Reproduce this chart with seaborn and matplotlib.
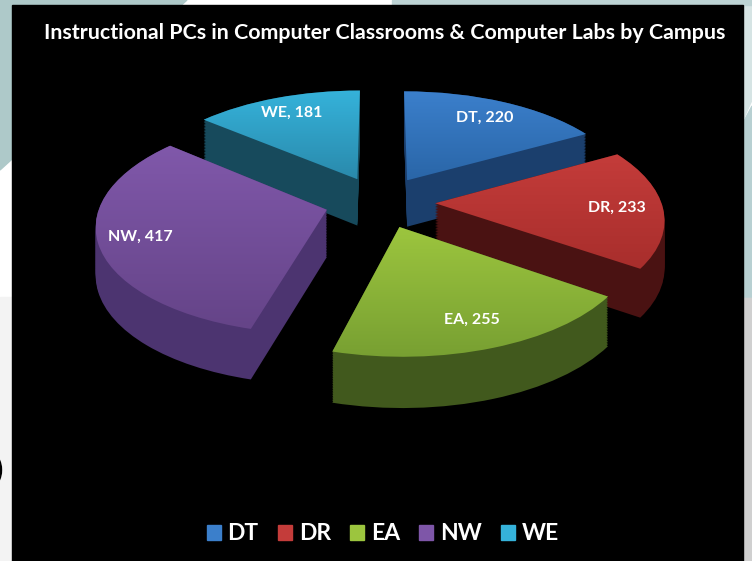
import numpy as np
import matplotlib
matplotlib.use('Agg')
import matplotlib.pyplot as plt
import seaborn as sns
from matplotlib.colors import LinearSegmentedColormap
from matplotlib.patches import Patch, Polygon, Rectangle, Ellipse
from matplotlib.transforms import Transform

campuses = ['DT', 'DR', 'EA', 'NW', 'WE']
pcs = [220, 233, 255, 417, 181]
title = 'Instructional PCs in Computer Classrooms & Computer Labs by Campus'

# colours per slice
top_light = ['#3b7fcb', '#c43c3a', '#9cc53e', '#8058aa', '#35b2da']
top_dark = ['#2a66a8', '#a82e2c', '#78a032', '#654488', '#2a8aac']
sides = ['#1b3f6d', '#4a1212', '#41591d', '#4c3470', '#174a5c']
legend_cols = ['#3b7fcb', '#c43c3a', '#9cc53e', '#7e56a8', '#35b2da']

# far to near, so the near slices cover the others
draw_rank = [1, 2, 4, 3, 0]
label_dist = [0.78, 0.80, 0.79, 0.82, 0.80]

sns.set_theme(style='white')
plt.rcParams['font.family'] = ['Lato', 'DejaVu Sans']

CX, CY, R, TILT, PERSP, DEPTH = 380, 202, 226, 0.468, 0.13, 47
EXPLODE = 0.244
LAYERS = 30


class Tilt(Transform):
    # lays the flat pie on a table seen from above, result is in pixels
    input_dims = 2
    output_dims = 2

    def __init__(self, z=0.0):
        super().__init__()
        self.z = z

    def transform_non_affine(self, values):
        xy = np.asarray(values, dtype=float)
        s = 1 / (1 + PERSP * xy[:, 1])
        return np.column_stack([CX + R * xy[:, 0] * s,
                                CY - R * TILT * xy[:, 1] * s + self.z * np.sqrt(s)])


fig = plt.figure(figsize=(7.52, 5.61), dpi=100)
ax = fig.add_axes([0, 0, 1, 1])

# slide behind the chart
ax.add_patch(Rectangle((0, 0), 752, 561, color='white', zorder=-10))
ax.add_patch(Rectangle((0, 297), 752, 264, color='#f3f3f3', zorder=-9))
ax.add_patch(Rectangle((743, 297), 9, 264, color='#d0d0d0', zorder=-9))
ax.add_patch(Polygon([(0, 0), (187, 0), (0, 170)], color='#aec9c9', zorder=-9))
ax.add_patch(Polygon([(392, 0), (752, 0), (752, 100), (743, 120), (743, 0)], color='#d6e4e4', zorder=-9))
ax.add_patch(Rectangle((392, 0), 360, 5, color='#bdd3d4', zorder=-8))
ax.add_patch(Polygon([(743, 123), (752, 106), (752, 297), (743, 297)], color='#b8d0d2', zorder=-8))
ax.add_patch(Ellipse((-8, 470), 19, 32, color='black', zorder=-8))
ax.add_patch(Rectangle((12, 5), 731, 556, color='black', zorder=-5))

base = ax.transData
for layer in range(LAYERS + 1):
    z = DEPTH * (1 - layer / LAYERS)
    wedges, _ = ax.pie(pcs, startangle=90, counterclock=False, explode=[EXPLODE] * 5,
                       colors=sides, frame=False)
    for i, w in enumerate(wedges):
        w.set_transform(Tilt(z) + base)
        w.set_zorder(draw_rank[i] * 100 + layer)
        w.set_linewidth(0)

top = Tilt(0)

# lit top faces, last layer of the stack gives the shapes
for i, w in enumerate(wedges):
    box = top.transform_path(w.get_path()).get_extents()
    cmap = LinearSegmentedColormap.from_list('g', [top_light[i], top_dark[i]])
    im = ax.imshow(np.linspace(0, 1, 64).reshape(-1, 1), cmap=cmap, aspect='auto',
                   extent=(box.x0, box.x1, box.y1, box.y0),
                   zorder=draw_rank[i] * 100 + LAYERS + 1)
    im.set_clip_path(w)

    mid = np.deg2rad((w.theta1 + w.theta2) / 2)
    px = w.center[0] + label_dist[i] * np.cos(mid)
    py = w.center[1] + label_dist[i] * np.sin(mid)
    ax.text(px, py, f'{campuses[i]}, {pcs[i]}', transform=top + base, color='white',
            fontsize=11.5, fontweight='bold', ha='center', va='center', zorder=1000)

ax.set_aspect('auto')
ax.set_xlim(0, 752)
ax.set_ylim(561, 0)
ax.axis('off')

ax.text(385, 33, title, color='white', fontsize=15.4, fontweight='bold',
        ha='center', va='center', zorder=1000)

handles = [Patch(color=c, label=n) for c, n in zip(legend_cols, campuses)]
leg = ax.legend(handles=handles, loc='center', bbox_to_anchor=(383 / 752, 1 - 534 / 561),
                ncol=5, frameon=False, handlelength=0.6, handleheight=0.6,
                handletextpad=0.3, columnspacing=0.85, labelcolor='white',
                prop={'weight': 'bold', 'size': 16.5})
leg.set_zorder(1000)

fig.savefig('out.png', dpi=100)
